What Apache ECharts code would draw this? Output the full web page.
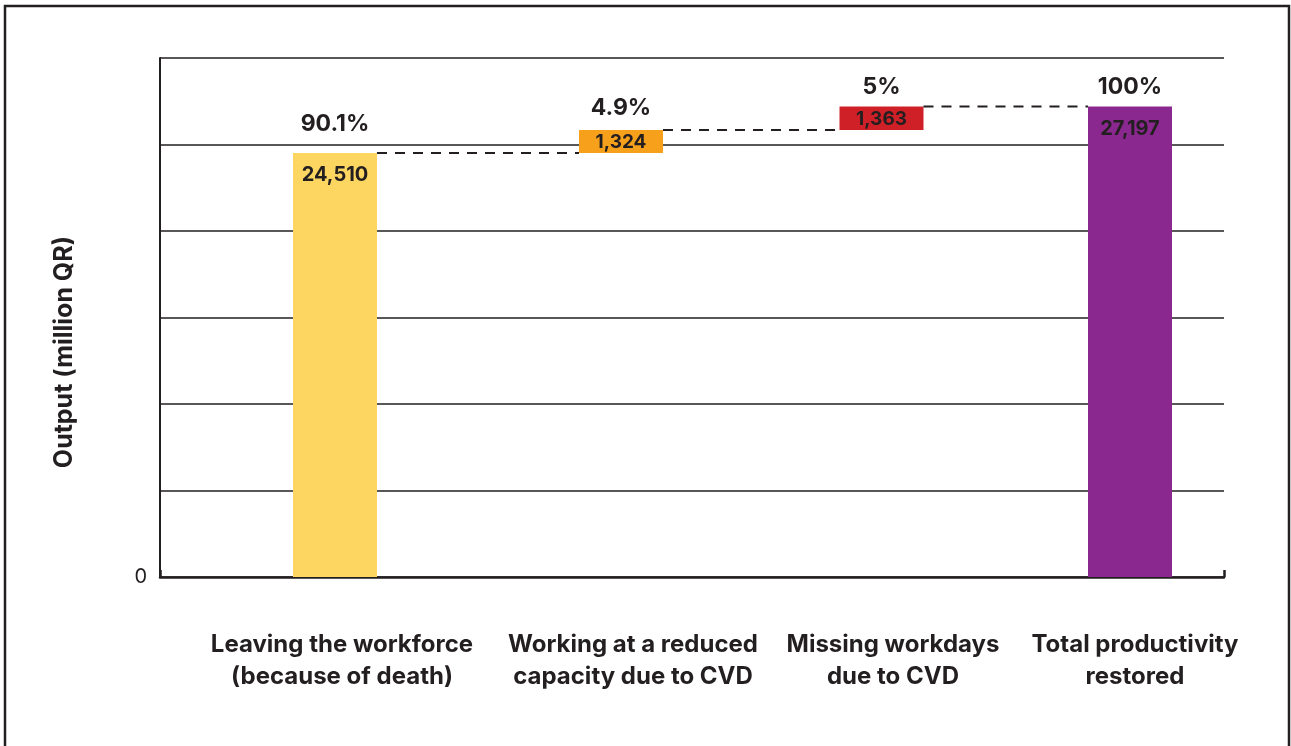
<!DOCTYPE html>
<html><head><meta charset="utf-8">
<script src="https://cdn.jsdelivr.net/npm/echarts@6/dist/echarts.min.js"></script>
<style>html,body{margin:0;padding:0;background:#fff}#c{width:1291px;height:746px}</style>
</head><body><div id="c"></div>
<script>
// ---- data ----
const categories = ['Leaving the workforce\n(because of death)', 'Working at a reduced\ncapacity due to CVD', 'Missing workdays\ndue to CVD', 'Total productivity\nrestored'];
const values = [24510, 1324, 1363, 27197];
const valueLabels = ['24,510', '1,324', '1,363', '27,197'];
const percentLabels = ['90.1%', '4.9%', '5%', '100%'];
const isTotal = [false, false, false, true];
const yMin = 0, yMax = 30000, yInterval = 5000;
const yName = 'Output (million QR)';

// ---- layout / style ----
const barCenters = [175, 461, 721.5, 970];   // position along the hidden x scale (0..1064)
const labelCenters = [182, 473, 733, 975];
const percentGap = [17, 10, 8, 8];
const colors = ['#FCD660', '#F6A01B', '#D02027', '#8B288F'];
const ink = '#231f20';
const FONT = 'Inter';
const BAR_W = 84;

// waterfall bases
const bases = [];
let run = 0;
values.forEach((v, i) => {
  if (isTotal[i]) { bases.push(0); run = v; }
  else { bases.push(run); run += v; }
});
const seriesData = values.map((v, i) => [barCenters[i], bases[i], bases[i] + v, i]);

const chart = echarts.init(document.getElementById('c'));
chart.setOption({
  animation: false,
  grid: { left: 160, right: 67, top: 58, bottom: 169 },
  xAxis: {
    type: 'value', min: 0, max: 1064, interval: 1064,
    axisLine: { show: true, lineStyle: { color: ink, width: 2.5 } },
    axisTick: { show: true, inside: true, length: 7, lineStyle: { color: ink, width: 2.5 } },
    axisLabel: { show: false },
    splitLine: { show: false }
  },
  yAxis: {
    type: 'value', min: yMin, max: yMax, interval: yInterval,
    axisLine: { show: true, lineStyle: { color: ink, width: 2 } },
    axisTick: { show: false },
    axisLabel: { formatter: v => (v === 0 ? '0' : ''), color: ink, fontSize: 20, fontFamily: FONT, margin: 13 },
    splitLine: { show: true, lineStyle: { color: ink, width: 1.5 } }
  },
  graphic: [
    { type: 'rect', z: -10, shape: { x: 5, y: 6, width: 1284, height: 800 }, style: { fill: 'none', stroke: ink, lineWidth: 2.5 } },
    { type: 'text', x: 64, y: 352, rotation: Math.PI / 2,
      style: { text: yName, fill: ink, fontSize: 25, fontWeight: 'bold', fontFamily: FONT, align: 'center', verticalAlign: 'middle' } }
  ],
  series: [{
    type: 'custom',
    clip: false,
    encode: { x: 0, y: [1, 2] },
    data: seriesData,
    renderItem: function (params, api) {
      const i = api.value(3);
      const x = api.value(0);
      const pBot = api.coord([x, api.value(1)]);
      const pTop = api.coord([x, api.value(2)]);
      const h = pBot[1] - pTop[1];
      const children = [];
      children.push({ type: 'rect', shape: { x: pTop[0] - BAR_W / 2, y: pTop[1], width: BAR_W, height: h }, style: { fill: colors[i] } });
      const big = h > 40;
      children.push({ type: 'text', style: {
        text: valueLabels[i], x: pTop[0], y: big ? pTop[1] + 22 : pTop[1] + h / 2 + 1,
        fill: ink, fontSize: big ? 20 : 19, fontWeight: 'bold', fontFamily: FONT, align: 'center', verticalAlign: 'middle' } });
      children.push({ type: 'text', style: {
        text: percentLabels[i], x: pTop[0], y: pTop[1] - percentGap[i],
        fill: ink, fontSize: 23, fontWeight: 'bold', fontFamily: FONT, align: 'center', verticalAlign: 'bottom' } });
      if (i < values.length - 1) {
        const nx = api.coord([barCenters[i + 1], 0])[0];
        children.push({ type: 'line', shape: { x1: pTop[0] + BAR_W / 2, y1: pTop[1], x2: nx - BAR_W / 2, y2: pTop[1] },
          style: { stroke: ink, lineWidth: 2, lineDash: [10, 8] } });
      }
      const lp = api.coord([labelCenters[i], 0]);
      children.push({ type: 'text', style: {
        text: categories[i], x: lp[0], y: lp[1] + 52, fill: ink, fontSize: 24, fontWeight: 'bold', fontFamily: FONT,
        align: 'center', verticalAlign: 'top', lineHeight: 32 } });
      return { type: 'group', children: children };
    }
  }]
});
</script>
</body></html>
